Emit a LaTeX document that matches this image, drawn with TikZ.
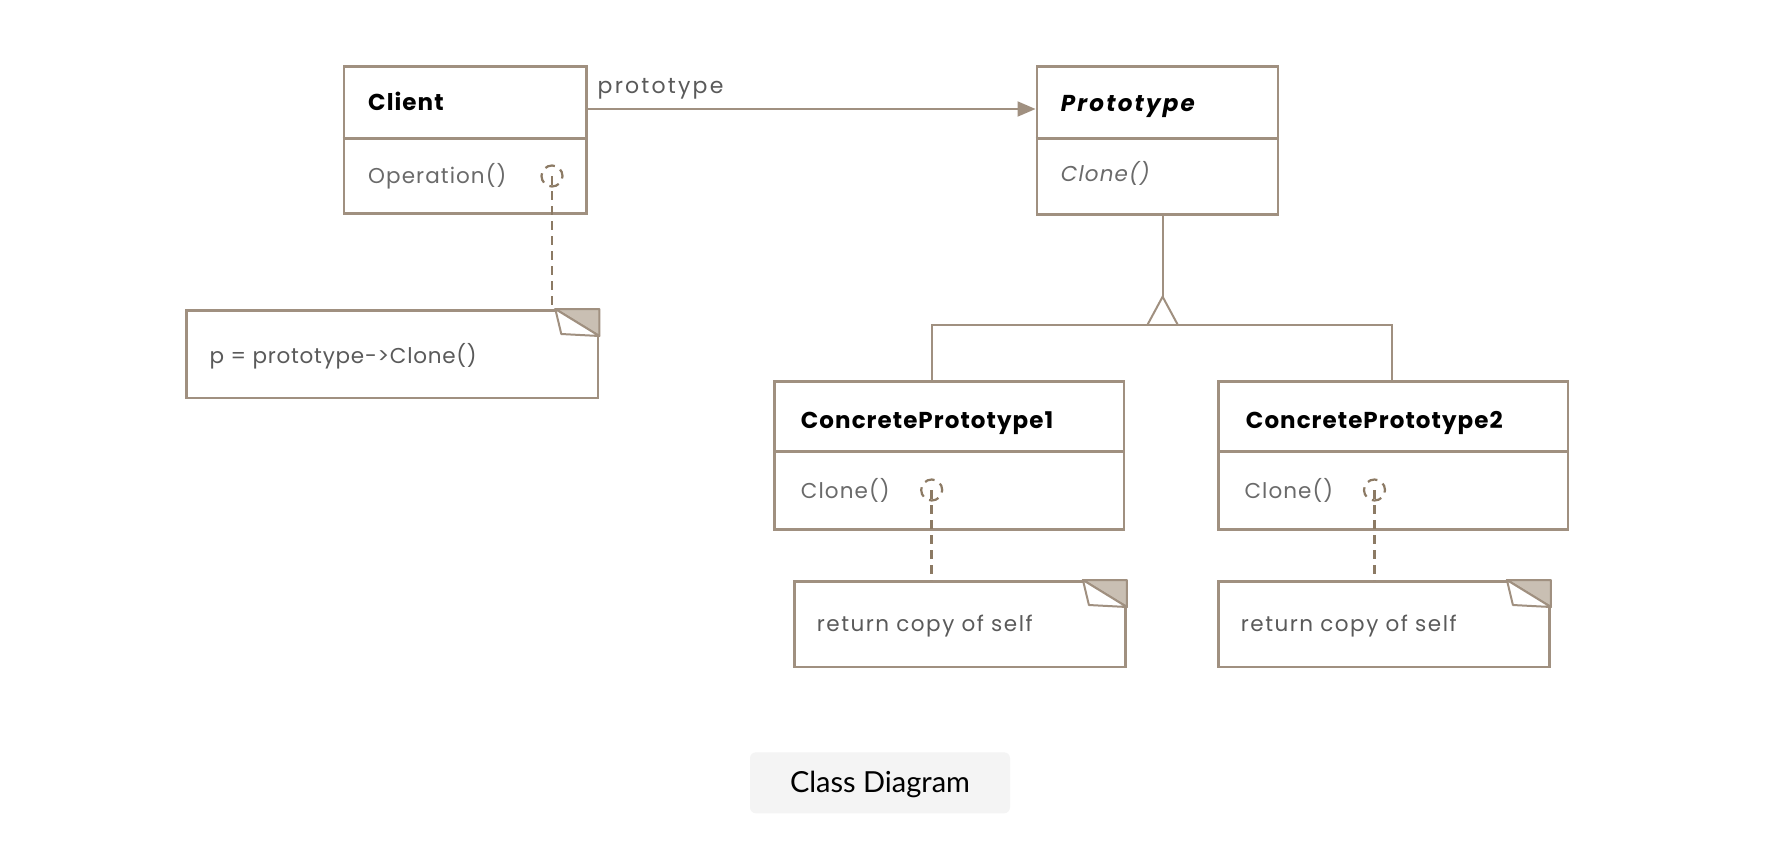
\documentclass[tikz,border=0pt]{standalone}
\usepackage{fontspec}
\setmainfont{Poppins}
\newfontfamily\capfont{Lato}
\usetikzlibrary{arrows.meta,calc}
\definecolor{lc}{HTML}{A09080}
\definecolor{dc}{HTML}{8C7A64}
\definecolor{foldc}{HTML}{C9BFB3}
\definecolor{mtext}{HTML}{6A6A6A}
\definecolor{ntext}{HTML}{5A5A5A}
\definecolor{btn}{HTML}{F4F4F4}
\begin{document}
\begin{tikzpicture}[x=1pt,y=-1pt,
  box/.style={draw=lc, line width=2.6pt, fill=white, inner sep=0pt, anchor=north west, rectangle},
  divider/.style={draw=lc, line width=2.6pt},
  cname/.style={anchor=base west, inner sep=0pt, text=black, font=\fontsize{23}{27}\selectfont\bfseries\addfontfeatures{LetterSpace=4.6}},
  meth/.style={anchor=base west, inner sep=0pt, text=mtext, font=\fontsize{21.5}{26}\selectfont\addfontfeatures{LetterSpace=5}},
  ntxt/.style={anchor=base west, inner sep=0pt, text=ntext, font=\fontsize{21.5}{26}\selectfont\addfontfeatures{LetterSpace=7}},
  circ/.style={circle, draw=dc, line width=2.2pt, dash pattern=on 10pt off 6.5pt, dash phase=3pt, minimum size=21pt, inner sep=0pt},
  dline/.style={draw=dc, line width=2.8pt, dash pattern=on 9pt off 6pt},
  assoc/.style={draw=lc, line width=2pt, -{Triangle[length=18pt,width=15pt]}},
  gen/.style={draw=lc, line width=2pt},
  foldtri/.style={fill=foldc, draw=lc, line width=2pt, line join=round},
  flap/.style={fill=white, draw=lc, line width=2pt, line join=round}
]
\useasboundingbox (0,0) rectangle (1766,860);
\fill[white] (0,0) rectangle (1766,860);

% class boxes
\node[box, minimum width=242.3pt, minimum height=147pt] (client) at (342.7,65) {};
\node[box, minimum width=241pt, minimum height=148pt] (proto) at (1035.5,65) {};
\node[box, minimum width=349.4pt, minimum height=148.3pt] (cp1) at (773.3,380) {};
\node[box, minimum width=349.4pt, minimum height=148.3pt] (cp2) at (1217.3,380) {};

% dividers
\coordinate (d1) at (0,138.7);
\coordinate (d2) at (0,451.7);
\draw[divider] (client.west |- d1) -- (client.east |- d1);
\draw[divider] (proto.west |- d1) -- (proto.east |- d1);
\draw[divider] (cp1.west |- d2) -- (cp1.east |- d2);
\draw[divider] (cp2.west |- d2) -- (cp2.east |- d2);

% notes
\node[box, minimum width=411.7pt, minimum height=87.7pt] (n1) at (185,309) {};
\node[box, minimum width=331pt, minimum height=85.7pt] (n2) at (793.3,580) {};
\node[box, minimum width=331pt, minimum height=85.7pt] (n3) at (1217.3,580) {};

\foreach \n in {n1,n2,n3}{
  \draw[foldtri] ($(\n.north east)+(-44,0)$) -- (\n.north east) -- ($(\n.north east)+(0,27)$) -- cycle;
  \draw[flap] ($(\n.north east)+(-44,0)$) -- ($(\n.north east)+(-38,25)$) -- ($(\n.north east)+(0,27)$) -- cycle;
}

% texts
\node[cname] (tclient) at (368,110.7) {Client};
\node[meth] (top) at (368,183) {Operation()};
\node[cname, font=\fontsize{23}{27}\selectfont\bfseries\itshape\addfontfeatures{LetterSpace=9.5}] (tproto) at (1060.7,111.7) {Prototype};
\node[meth, font=\fontsize{21.5}{26}\selectfont\itshape\addfontfeatures{LetterSpace=5}] (tclone) at (1060.7,181.7) {Clone()};
\node[cname] (tcp1) at (800.7,428.3) {ConcretePrototype1};
\node[meth] (tc1) at (800.7,498.3) {Clone()};
\node[cname] (tcp2) at (1245.7,428.3) {ConcretePrototype2};
\node[meth] (tc2) at (1244.3,498.3) {Clone()};
\node[ntxt, font=\fontsize{21.5}{26}\selectfont\addfontfeatures{LetterSpace=3.5}] (tn1) at (209.3,363.3) {p = prototype->Clone()};
\node[ntxt] (tn2) at (816.7,631.7) {return copy of self};
\node[ntxt] (tn3) at (1240.7,631.7) {return copy of self};

% association
\coordinate (ay) at (0,109);
\draw[assoc] (client.east |- ay) -- (proto.west |- ay);
\node[meth, text=ntext, font=\fontsize{22}{26}\selectfont\addfontfeatures{LetterSpace=10}] (tlabel) at (597.5,93) {prototype};

% generalization
\coordinate (gx) at (1162.6,0);
\coordinate (gtip) at (1162.6,296.7);
\coordinate (gbar) at (1162.6,324.5);
\coordinate (bl) at (931.7,324.5);
\coordinate (br) at (1391.7,324.5);
\draw[gen] (proto.south -| gx) -- (gtip);
\draw[gen, line join=miter] ($(gbar)+(-15,0)$) -- (gtip) -- ($(gbar)+(15,0)$);
\draw[gen] (cp1.north -| bl) -- (bl) -- (br) -- (cp2.north -| br);

% note anchors
\node[circ] (c1) at (552,176) {};
\node[circ] (c2) at (931.7,490) {};
\node[circ] (c3) at (1374.5,490) {};
\draw[dline] (c1.center) -- (c1.center |- n1.north);
\draw[dline] (c2.center) -- (c2.center |- n2.north);
\draw[dline] (c3.center) -- (c3.center |- n3.north);

% caption button
\node[fill=btn, rounded corners=6pt, minimum width=260pt, minimum height=61pt, inner sep=0pt] (btnbox) at (880,782.8) {};
\node[anchor=base, inner sep=0pt, font=\capfont\fontsize{29}{34}\selectfont] (caption) at (880,792.7) {Class Diagram};
\end{tikzpicture}
\end{document}
